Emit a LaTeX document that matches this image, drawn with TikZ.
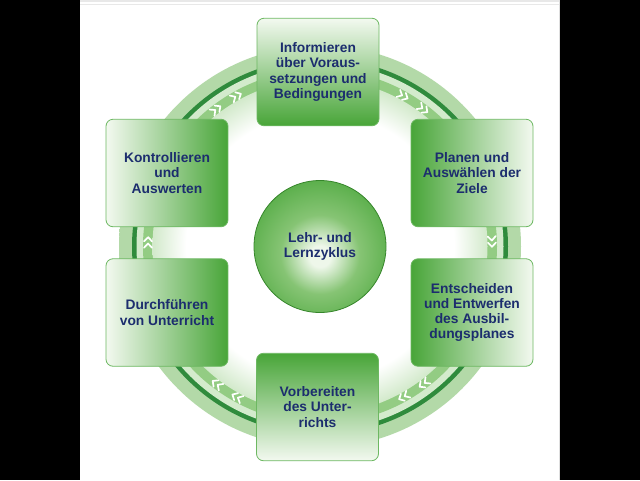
\documentclass[tikz,border=0pt]{standalone}
\usepackage{fontspec}
\setmainfont{Liberation Sans}

\definecolor{boxgreen}{HTML}{48A538}
\definecolor{boxpale}{HTML}{F3F9F0}
\definecolor{boxline}{HTML}{6DB862}
\definecolor{textblue}{HTML}{1C2D6E}
\definecolor{ringdark}{HTML}{2F8B3C}
\definecolor{ringpale}{HTML}{D3EBCC}
\definecolor{bandgreen}{HTML}{93CC83}
\definecolor{outerin}{HTML}{B3D9A8}
\definecolor{outerout}{HTML}{D3EBCD}
\definecolor{innermid}{HTML}{C9E5C0}
\definecolor{innerrim}{HTML}{A2D294}
\definecolor{hubcore}{HTML}{EEF7EA}
\definecolor{hubmid}{HTML}{86C474}
\definecolor{hubdeep}{HTML}{4FA940}
\definecolor{hubgreen}{HTML}{3F9E33}

\pgfdeclareradialshading{outerglow}{\pgfpoint{0bp}{0bp}}{color(0bp)=(outerin); color(46bp)=(outerin); color(50bp)=(outerout)}
\pgfdeclareradialshading{innerglow}{\pgfpoint{0bp}{0bp}}{color(0bp)=(white); color(20bp)=(white); color(26bp)=(innermid); color(50bp)=(innerrim)}
\pgfdeclareradialshading{hubshade}{\pgfpoint{0bp}{-4bp}}{color(0bp)=(hubcore); color(4bp)=(hubcore); color(15bp)=(hubmid); color(31bp)=(hubdeep); color(50bp)=(hubgreen); color(60bp)=(hubgreen)}

\begin{document}
\begin{tikzpicture}[x=1pt, y=-1pt,
phasenode/.style={rectangle, rounded corners=7pt, draw=boxline, line width=0.8pt, minimum width=122pt, minimum height=107.5pt, inner sep=2pt, align=center, text=textblue, font=\fontsize{13.8}{15.2}\selectfont\bfseries},
hubnode/.style={circle, draw=hubgreen!85!black, line width=0.8pt, minimum size=132pt, shading=hubshade, align=center, text=textblue, font=\fontsize{13.8}{15.2}\selectfont\bfseries},
chevron/.style={white, line width=1.7pt, line cap=round, line join=round},
]
\useasboundingbox (0,0) rectangle (640,480);
\fill[black] (0,0) rectangle (640,480);
\fill[white] (80,0) rectangle (559.5,480);
\draw[gray!18, line width=1.5pt] (80,1) -- (559.5,1);
\draw[gray!18] (80,4.5) -- (559.5,4.5);
\draw[gray!25] (559,0) -- (559,480);

%Rings
\shade[shading=outerglow] (320,246.5) circle (201pt);
\fill[ringdark] (320,246.5) circle (188pt);
\fill[ringpale] (320,246.5) circle (183.5pt);
\fill[bandgreen] (320,246.5) circle (177pt);
\shade[shading=innerglow] (320,246.5) circle (167.5pt);

%Chevrons
\begin{scope}[shift={(320,246.5)}]
\foreach \a in {-1.5,53,61,119,127,181.5,233,241,299,307}{
  \draw[chevron] (\a-1.9:176) -- (\a-0.5:172) -- (\a-1.9:168);
  \draw[chevron] (\a+0.2:176) -- (\a+1.6:172) -- (\a+0.2:168);
}
\end{scope}

%Nodes
\node[hubnode] (cycle) at (320,246.5) {Lehr- und\\Lernzyklus};
\node[phasenode, top color=boxpale, bottom color=boxgreen] (inform) at (318,72) {Informieren\\über Voraus-\\setzungen und\\Bedingungen};
\node[phasenode, left color=boxgreen, right color=boxpale] (plan) at (472,173) {Planen und\\Auswählen der\\Ziele};
\node[phasenode, left color=boxgreen, right color=boxpale] (decide) at (472,312.5) {Entscheiden\\und Entwerfen\\des Ausbil-\\dungsplanes};
\node[phasenode, top color=boxgreen, bottom color=boxpale] (prepare) at (317.5,407) {Vorbereiten\\des Unter-\\richts};
\node[phasenode, left color=boxpale, right color=boxgreen] (conduct) at (167,312.5) {Durchführen\\von Unterricht};
\node[phasenode, left color=boxpale, right color=boxgreen] (control) at (167,173) {Kontrollieren\\und\\Auswerten};
\end{tikzpicture}
\end{document}
